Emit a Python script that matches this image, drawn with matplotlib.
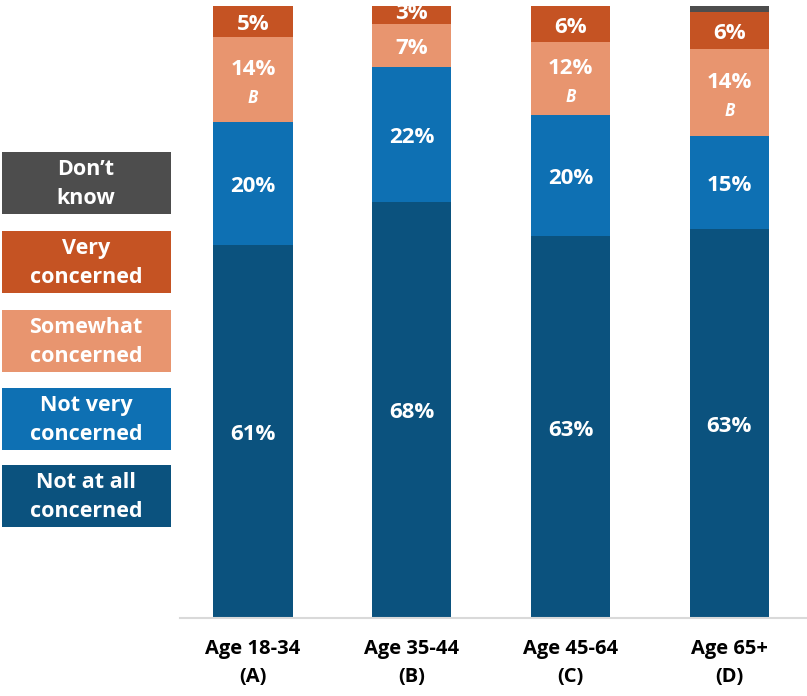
import matplotlib.pyplot as plt
from matplotlib.patches import Rectangle
import numpy as np

# data
groups = ['Age 18-34\n(A)', 'Age 35-44\n(B)', 'Age 45-64\n(C)', 'Age 65+\n(D)']
series = ['Not at all\nconcerned', 'Not very\nconcerned', 'Somewhat\nconcerned',
          'Very\nconcerned', 'Don\u2019t\nknow']
not_at_all = [61, 68, 63, 63]
not_very = [20, 22, 20, 15]
somewhat = [14, 7, 12, 14]
very = [5, 3, 6, 6]
dont_know = [0, 0, 0, 1]
sig_somewhat = ['B', '', 'B', 'B']

colors = ['#0b527e', '#0e70b3', '#e8956f', '#c55323', '#4d4d4d']
values = np.array([not_at_all, not_very, somewhat, very, dont_know], dtype=float)
# bars are stacked to 100%
shares = values / values.sum(axis=0) * 100

plt.rcParams['font.family'] = ['Open Sans', 'DejaVu Sans']

fig = plt.figure(figsize=(8.07, 6.96), dpi=100)
ax = fig.add_axes([180/807, 78/696, 627/807, 612/696])

x = np.arange(len(groups))
bottom = np.zeros(len(groups))
for i, col in enumerate(colors):
    ax.bar(x, shares[i], 0.5, bottom=bottom, color=col, edgecolor='none')
    for j in range(len(groups)):
        v = values[i, j]
        if v < 2:
            continue
        yc = bottom[j] + shares[i, j]/2
        if i == 2 and sig_somewhat[j]:
            ax.text(x[j], yc + 1.7, '%d%%' % v, ha='center', va='center',
                    color='white', fontsize=16, fontweight='bold')
            ax.text(x[j], yc - 3.0, sig_somewhat[j], ha='center', va='center',
                    color='white', fontsize=12, fontweight='bold', style='italic')
        else:
            ax.text(x[j], yc + (0.2 if v < 5 else -0.5), '%d%%' % v, ha='center', va='center',
                    color='white', fontsize=16, fontweight='bold')
    bottom += shares[i]

ax.set_xlim(-0.46, 3.49)
ax.set_ylim(0, 100)
ax.set_yticks([])
ax.set_xticks(x)
ax.set_xticklabels(groups, fontsize=14.5, fontweight='bold', linespacing=1.55)
ax.tick_params(axis='x', length=0, pad=15)
for s in ['top', 'right', 'left']:
    ax.spines[s].set_visible(False)
ax.spines['bottom'].set_color('#d9d9d9')
ax.spines['bottom'].set_linewidth(1.5)

# legend boxes, top to bottom
box_tops = [152, 231, 310, 388, 465]
for lab, col, top in zip(series[::-1], colors[::-1], box_tops):
    y0 = (696 - top - 62) / 696
    fig.patches.append(Rectangle((2/807, y0), 169/807, 62/696, transform=fig.transFigure,
                                 facecolor=col, edgecolor='none'))
    fig.text(86/807, y0 + 30/696, lab, ha='center', va='center', color='white',
             fontsize=15.5, fontweight='bold', linespacing=1.5)

fig.savefig('out.png', dpi=100)
